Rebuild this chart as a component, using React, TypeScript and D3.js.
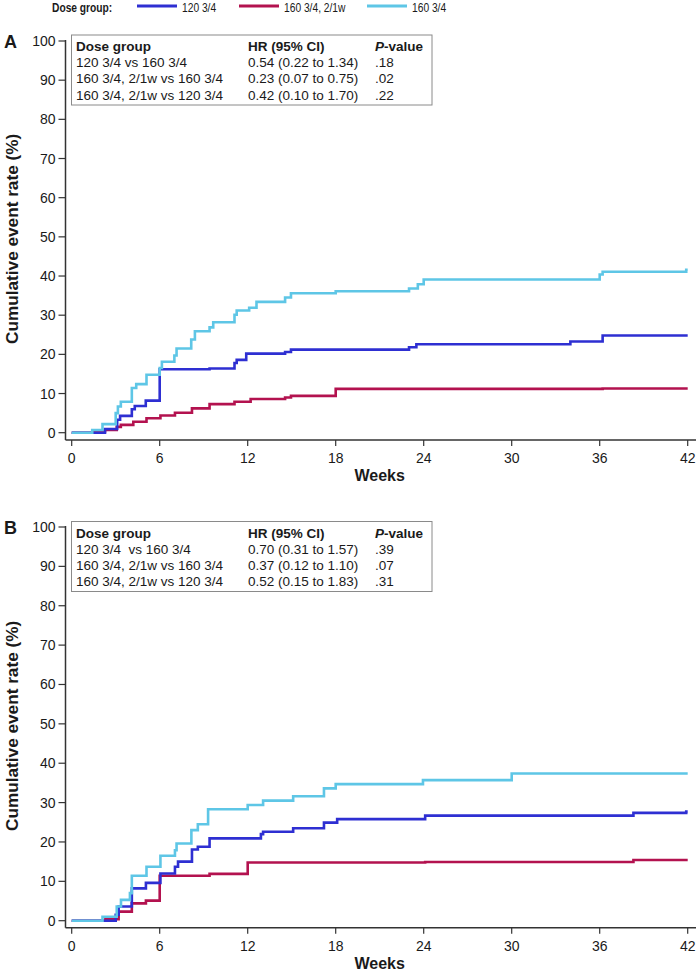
import React from "react";
import * as d3 from "d3";

type Pt = [number, number];

// ---- data ----
const seriesNames = ["120 3/4", "160 3/4, 2/1w", "160 3/4"];
const seriesColors = ["#2e2fd2", "#b3124f", "#5ec6e6"];

const xTicks = [0, 6, 12, 18, 24, 30, 36, 42];
const yTicks = [0, 10, 20, 30, 40, 50, 60, 70, 80, 90, 100];

// Panel A
const a120: Pt[] = [[0,0],[2.27,0.95],[3.1,3.3],[3.3,4.3],[4.1,6.0],[4.3,6.8],[5.05,8.2],[6.0,16.2],[9.4,16.4],[11.1,17.8],[11.25,18.6],[11.9,20.2],[14.55,20.6],[14.95,21.2],[23.0,21.8],[23.5,22.6],[34.0,23.3],[36.2,24.8],[42,24.8]];
const a160w: Pt[] = [[0,0],[1.5,0.3],[2.27,0.7],[3.07,1.5],[3.35,2.0],[4.2,2.8],[5.1,3.7],[6.05,4.4],[7.04,5.1],[8.2,6.2],[9.4,7.3],[11.1,7.9],[12.2,8.6],[14.55,9.0],[14.95,9.4],[18.0,11.2],[36.2,11.3],[42,11.3]];
const a160: Pt[] = [[0,0],[1.4,0.7],[2.1,2.2],[3.0,5.0],[3.15,6.7],[3.35,7.9],[4.1,11.4],[4.4,12.4],[5.1,14.8],[6.0,16.5],[6.15,18.1],[7.0,19.7],[7.15,21.5],[8.15,23.8],[8.4,25.9],[9.4,26.9],[9.65,28.2],[11.1,30.1],[11.25,31.2],[12.1,31.9],[12.6,33.4],[14.55,34.5],[14.95,35.6],[18.0,36.1],[23.0,36.8],[23.6,37.9],[24.0,39.1],[36.0,40.4],[36.2,41.1],[41.9,41.6],[42,41.6]];

// Panel B
const b120: Pt[] = [[0,0],[3.0,1.5],[3.2,3.6],[4.1,8.2],[5.06,9.6],[6.05,12.0],[7.04,13.7],[7.25,15.0],[8.2,18.1],[8.6,18.8],[9.4,20.9],[12.9,22.0],[13.05,22.6],[15.1,23.5],[17.2,24.9],[18.1,25.8],[24.1,26.7],[38.3,27.4],[41.9,27.7],[42,27.7]];
const b160w: Pt[] = [[0,0],[2.3,0.4],[3.2,2.3],[4.1,4.4],[5.06,5.1],[6.0,11.4],[9.4,11.9],[12.0,14.8],[24.1,14.9],[38.3,15.4],[42,15.4]];
const b160: Pt[] = [[0,0],[2.1,1.0],[3.07,3.6],[3.36,5.3],[3.97,7.0],[4.1,11.4],[5.1,13.7],[6.05,16.5],[7.04,17.9],[7.15,19.6],[8.16,23.0],[8.6,24.5],[9.3,28.3],[12.0,29.4],[13.05,30.5],[15.1,31.6],[17.2,33.6],[18.0,34.7],[23.95,35.7],[30.0,37.4],[42,37.4]];

// Tables
const tableHeader = ["Dose group", "HR (95% CI)", "P-value"];
const tableAComparisons = ["120 3/4 vs 160 3/4", "160 3/4, 2/1w vs 160 3/4", "160 3/4, 2/1w vs 120 3/4"];
const tableAHR = ["0.54 (0.22 to 1.34)", "0.23 (0.07 to 0.75)", "0.42 (0.10 to 1.70)"];
const tableAP = [".18", ".02", ".22"];
const tableBComparisons = ["120 3/4  vs 160 3/4", "160 3/4, 2/1w vs 160 3/4", "160 3/4, 2/1w vs 120 3/4"];
const tableBHR = ["0.70 (0.31 to 1.57)", "0.37 (0.12 to 1.10)", "0.52 (0.15 to 1.83)"];
const tableBP = [".39", ".07", ".31"];

const FONT = "'Liberation Sans', Arial, Helvetica, sans-serif";
const TXT = "#1a1a1a";

interface PanelProps {
  letter: string;
  y0: number;
  y100: number;
  axisY: number;
  boxTop: number;
  series: Pt[][];
  comps: string[];
  hrs: string[];
  ps: string[];
}

const Panel: React.FC<PanelProps> = ({ letter, y0, y100, axisY, boxTop, series, comps, hrs, ps }) => {
  const x = d3.scaleLinear().domain([0, 42]).range([71.7, 687.7]);
  const y = d3.scaleLinear().domain([0, 100]).range([y0, y100]);
  const axisX = 65.5;
  const line = d3
    .line<Pt>()
    .x((d) => x(d[0]))
    .y((d) => y(d[1]))
    .curve(d3.curveStepAfter);
  const order = [1, 0, 2];
  const boxLeft = 71.5;
  const boxRight = 432;
  const rowH = 16.2;
  const col = [76, 248, 375];
  return (
    <g>
      <text x={4} y={y100 + 7} fontFamily={FONT} fontWeight="bold" fontSize={18} fill={TXT}>
        {letter}
      </text>
      <line x1={axisX} x2={axisX} y1={y100 - 1} y2={axisY} stroke="#333" strokeWidth={1.5} />
      <line x1={axisX} x2={696} y1={axisY} y2={axisY} stroke="#333" strokeWidth={1.5} />
      {yTicks.map((t) => (
        <g key={"y" + t}>
          <line x1={axisX - 7} x2={axisX} y1={y(t)} y2={y(t)} stroke="#333" strokeWidth={1.2} />
          <text x={axisX - 10} y={y(t) + 5} textAnchor="end" fontFamily={FONT} fontSize={14} fill={TXT}>
            {t}
          </text>
        </g>
      ))}
      {xTicks.map((t) => (
        <g key={"x" + t}>
          <line x1={x(t)} x2={x(t)} y1={axisY} y2={axisY + 6} stroke="#333" strokeWidth={1.2} />
          <text x={x(t)} y={axisY + 23} textAnchor="middle" fontFamily={FONT} fontSize={14} fill={TXT}>
            {t}
          </text>
        </g>
      ))}
      <text x={x(21)} y={axisY + 41} textAnchor="middle" fontFamily={FONT} fontWeight="bold" fontSize={16} fill={TXT}>
        Weeks
      </text>
      <text
        transform={`translate(18,${(y0 + y100) / 2 + 2}) rotate(-90)`}
        textAnchor="middle"
        fontFamily={FONT}
        fontWeight="bold"
        fontSize={17.2}
        fill={TXT}
      >
        Cumulative event rate (%)
      </text>
      {order.map((i) => (
        <path key={"s" + i} d={line(series[i]) || ""} fill="none" stroke={seriesColors[i]} strokeWidth={2.6} />
      ))}
      <rect x={boxLeft} y={boxTop} width={boxRight - boxLeft} height={70} fill="white" stroke="#8a8a8a" strokeWidth={1} />
      <text x={col[0]} y={boxTop + 16} fontFamily={FONT} fontWeight="bold" fontSize={13.5} fill={TXT}>
        {tableHeader[0]}
      </text>
      <text x={col[1]} y={boxTop + 16} fontFamily={FONT} fontWeight="bold" fontSize={13.5} fill={TXT}>
        {tableHeader[1]}
      </text>
      <text x={col[2]} y={boxTop + 16} fontFamily={FONT} fontWeight="bold" fontSize={13.5} fill={TXT}>
        <tspan fontStyle="italic">P</tspan>
        {tableHeader[2].slice(1)}
      </text>
      {comps.map((c, i) => (
        <g key={"r" + i}>
          <text x={col[0]} y={boxTop + 16 + rowH * (i + 1)} fontFamily={FONT} fontSize={13.5} fill={TXT} style={{ whiteSpace: "pre" }}>
            {c}
          </text>
          <text x={col[1]} y={boxTop + 16 + rowH * (i + 1)} fontFamily={FONT} fontSize={13.5} fill={TXT}>
            {hrs[i]}
          </text>
          <text x={col[2]} y={boxTop + 16 + rowH * (i + 1)} fontFamily={FONT} fontSize={13.5} fill={TXT}>
            {ps[i]}
          </text>
        </g>
      ))}
    </g>
  );
};

const Legend: React.FC = () => {
  const items = [
    { x1: 137, tx: 182 },
    { x1: 239, tx: 284 },
    { x1: 367, tx: 412 },
  ];
  const sx = 0.8;
  return (
    <g>
      <text transform={`translate(52,11.5) scale(${sx},1)`} fontFamily={FONT} fontWeight="bold" fontSize={12.8} fill={TXT}>
        Dose group:
      </text>
      {items.map((it, i) => (
        <g key={i}>
          <line x1={it.x1} x2={it.x1 + 40} y1={6} y2={6} stroke={seriesColors[i]} strokeWidth={3} />
          <text transform={`translate(${it.tx},11.5) scale(${sx},1)`} fontFamily={FONT} fontSize={12.8} fill={TXT}>
            {seriesNames[i]}
          </text>
        </g>
      ))}
    </g>
  );
};

export default function App() {
  return (
    <div style={{ position: "absolute", left: 0, top: 0 }}>
      <svg width={697} height={974} style={{ display: "block", background: "white" }}>
        <rect x={0} y={0} width={697} height={974} fill="white" />
        <Legend />
        <Panel
          letter="A"
          y0={432.7}
          y100={41}
          axisY={440}
          boxTop={35}
          series={[a120, a160w, a160]}
          comps={tableAComparisons}
          hrs={tableAHR}
          ps={tableAP}
        />
        <Panel
          letter="B"
          y0={920.7}
          y100={527}
          axisY={927.7}
          boxTop={521.5}
          series={[b120, b160w, b160]}
          comps={tableBComparisons}
          hrs={tableBHR}
          ps={tableBP}
        />
      </svg>
    </div>
  );
}
